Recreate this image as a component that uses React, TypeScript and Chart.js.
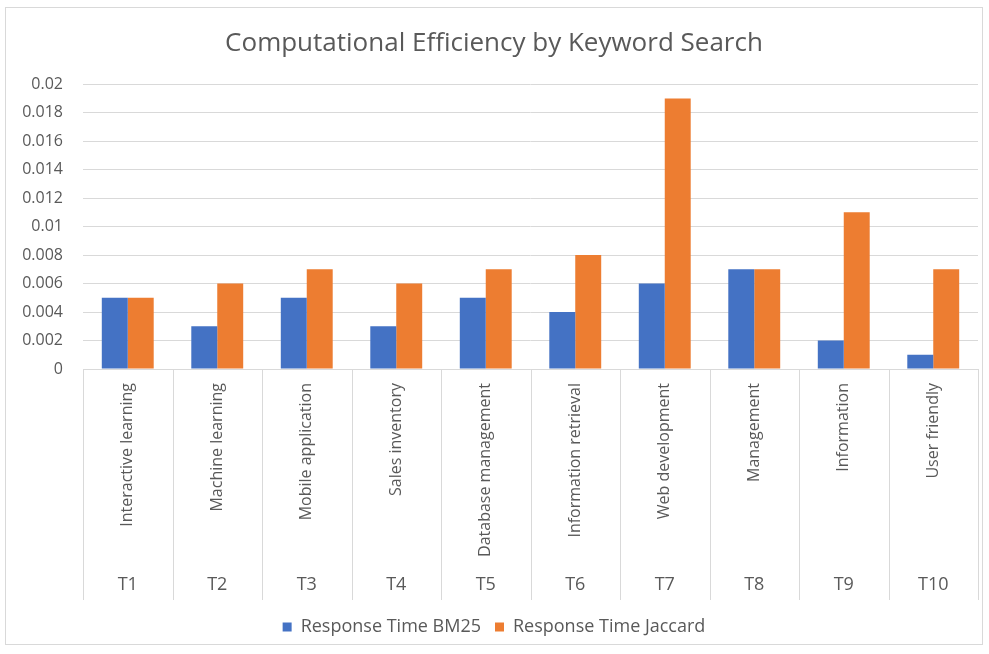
import React, { useEffect, useRef } from "react";
import { Chart, registerables } from "chart.js";

Chart.register(...registerables);

// Topic codes and the keyword searched for each topic
const topicCodes = ["T1", "T2", "T3", "T4", "T5", "T6", "T7", "T8", "T9", "T10"];
const keywords = [
  "Interactive learning",
  "Machine learning",
  "Mobile application",
  "Sales inventory",
  "Database management",
  "Information retrieval",
  "Web development",
  "Management",
  "Information",
  "User friendly",
];

// Response times (seconds)
const responseBM25 = [0.005, 0.003, 0.005, 0.003, 0.005, 0.004, 0.006, 0.007, 0.002, 0.001];
const responseJaccard = [0.005, 0.006, 0.007, 0.006, 0.007, 0.008, 0.019, 0.007, 0.011, 0.007];

const FONT = "'Open Sans', 'Liberation Sans', sans-serif";
const TEXT_COLOR = "#595959";
const GRID_COLOR = "#d9d9d9";
const AXIS_BAND = 235;
const SEPARATOR_LEN = 231;

// Draws the two-level category axis: rotated keywords above the topic codes,
// with separators between the groups.
const multiLevelAxis = {
  id: "multiLevelAxis",
  afterDraw(chart: any) {
    const { ctx, chartArea } = chart;
    const xs = chart.scales.x;
    const n = topicCodes.length;
    const step = (chartArea.right - chartArea.left) / n;
    const top = chartArea.bottom;
    const bottom = top + SEPARATOR_LEN;
    ctx.save();
    ctx.strokeStyle = GRID_COLOR;
    ctx.lineWidth = 1;
    ctx.beginPath();
    ctx.moveTo(chartArea.left, top + 0.5);
    ctx.lineTo(chartArea.right, top + 0.5);
    for (let i = 0; i <= n; i++) {
      const x = Math.round(chartArea.left + i * step) + 0.5;
      ctx.moveTo(x, top);
      ctx.lineTo(x, bottom);
    }
    ctx.stroke();

    ctx.fillStyle = TEXT_COLOR;
    for (let i = 0; i < n; i++) {
      const cx = xs.getPixelForValue(i);
      ctx.save();
      ctx.translate(cx, top + 14);
      ctx.rotate(-Math.PI / 2);
      ctx.font = `16px ${FONT}`;
      ctx.textAlign = "right";
      ctx.textBaseline = "middle";
      ctx.fillText(keywords[i], 0, 0);
      ctx.restore();

      ctx.font = `18px ${FONT}`;
      ctx.textAlign = "center";
      ctx.textBaseline = "middle";
      ctx.fillText(topicCodes[i], cx, top + 216);
    }
    ctx.restore();
  },
};

export default function App() {
  const canvasRef = useRef<HTMLCanvasElement | null>(null);

  useEffect(() => {
    if (!canvasRef.current) return;
    const chart = new Chart(canvasRef.current, {
      type: "bar",
      data: {
        labels: topicCodes,
        datasets: [
          {
            label: "Response Time BM25",
            data: responseBM25,
            backgroundColor: "#4472C4",
            categoryPercentage: 0.58,
            barPercentage: 1.0,
          },
          {
            label: "Response Time Jaccard",
            data: responseJaccard,
            backgroundColor: "#ED7D31",
            categoryPercentage: 0.58,
            barPercentage: 1.0,
          },
        ],
      },
      options: {
        responsive: false,
        animation: false,
        layout: { padding: { left: 10, right: 11, top: 0, bottom: 8 } },
        plugins: {
          title: {
            display: true,
            text: "Computational Efficiency by Keyword Search",
            color: TEXT_COLOR,
            font: { family: FONT, size: 26, weight: "normal" },
            padding: { top: 28, bottom: 25 },
          },
          legend: {
            position: "bottom",
            labels: {
              color: TEXT_COLOR,
              font: { family: FONT, size: 18 },
              usePointStyle: true,
              pointStyle: "rect",
              boxWidth: 9,
              boxHeight: 9,
              padding: 14,
            },
          },
          tooltip: { enabled: false },
        },
        scales: {
          x: {
            grid: { display: false },
            border: { display: false },
            ticks: { display: false },
            afterFit(scale: any) {
              scale.height = AXIS_BAND;
            },
          },
          y: {
            min: 0,
            max: 0.02,
            grid: { color: GRID_COLOR, drawTicks: false },
            border: { display: false },
            ticks: {
              stepSize: 0.002,
              color: TEXT_COLOR,
              font: { family: FONT, size: 16 },
              padding: 20,
              callback: (v: any) => String(+Number(v).toFixed(3)),
            },
            afterFit(scale: any) {
              scale.width = 73;
            },
          },
        },
      },
      plugins: [multiLevelAxis],
    });
    return () => chart.destroy();
  }, []);

  return (
    <div style={{ position: "fixed", left: 0, top: 0, width: 989, height: 654, background: "#fff" }}>
      <div
        style={{
          position: "absolute",
          left: 5,
          top: 7,
          width: 978,
          height: 638,
          border: "1px solid #d9d9d9",
          boxSizing: "border-box",
        }}
      />
      <canvas ref={canvasRef} width={989} height={654} style={{ position: "absolute", left: 0, top: 0 }} />
    </div>
  );
}
